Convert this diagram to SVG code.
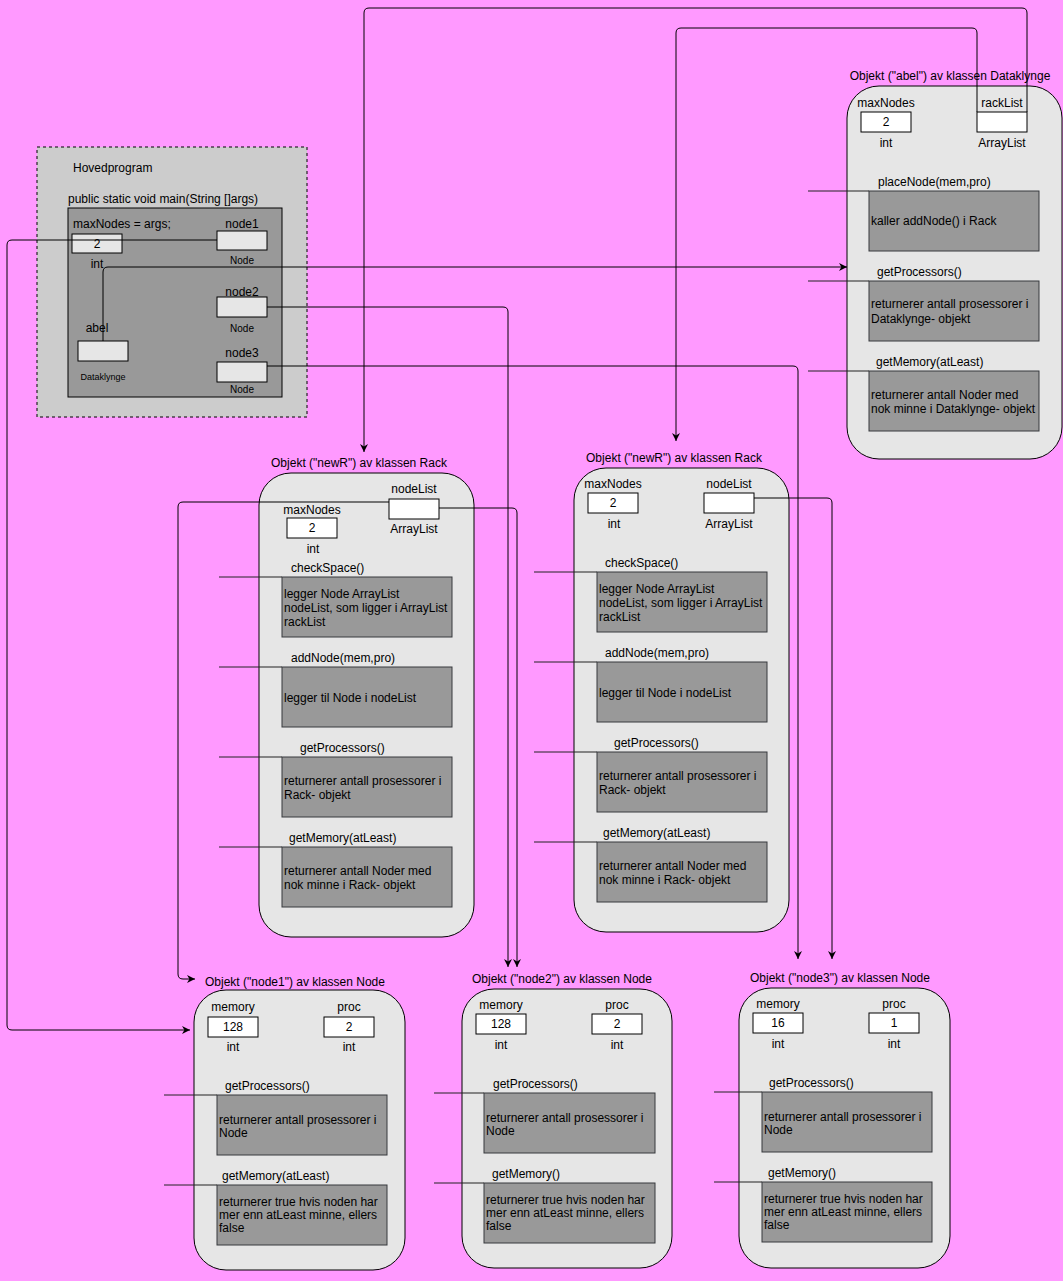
<svg xmlns="http://www.w3.org/2000/svg" width="1063" height="1281" viewBox="0 0 1063 1281">
<defs>
<marker id="arr" viewBox="0 0 10 10" refX="10" refY="5" markerWidth="8" markerHeight="8" markerUnits="userSpaceOnUse" orient="auto">
<path d="M0,0 L10,5 L0,10 L3,5 z" fill="#000"/>
</marker>
<style>
text{font-family:"Liberation Sans",Arial,sans-serif;font-size:12px;fill:#000}
.c{text-anchor:middle}
.s{font-size:10px}
.xs{font-size:9px}
.obj{fill:#E6E6E6;stroke:#000;stroke-width:1}
.meth{fill:#999999;stroke:#36393d;stroke-width:1}
.val{fill:#FFFFFF;stroke:#000;stroke-width:1}
.hval{fill:#E6E6E6;stroke:#000;stroke-width:1}
.ml{stroke:#222;stroke-width:1;fill:none}
.con{fill:none;stroke:#000;stroke-width:1}
</style>
</defs>
<rect x="0" y="0" width="1063" height="1281" fill="#FF99FF"/>

<g id="hovedprogram">
<rect x="37" y="147" width="270" height="270" fill="#CCCCCC" stroke="#000" stroke-dasharray="3,3"/>
<text x="73" y="172">Hovedprogram</text>
<text x="68" y="203">public static void main(String []args)</text>
<rect x="68" y="208" width="214" height="189" fill="#999999" stroke="#000"/>
<text x="73" y="228">maxNodes = args;</text>
<rect class="hval" x="72" y="234" width="50" height="19"/>
<text class="c" x="97" y="248">2</text>
<text class="c" x="97" y="268">int</text>
<text class="c" x="242" y="228">node1</text>
<rect class="hval" x="217" y="231" width="50" height="19"/>
<text class="c s" x="242" y="264">Node</text>
<text class="c" x="242" y="296">node2</text>
<rect class="hval" x="217" y="297" width="50" height="20"/>
<text class="c s" x="242" y="332">Node</text>
<text class="c" x="97" y="332">abel</text>
<rect class="hval" x="78" y="341" width="50" height="20"/>
<text class="c xs" x="103" y="380">Dataklynge</text>
<text class="c" x="242" y="357">node3</text>
<rect class="hval" x="217" y="362" width="50" height="20"/>
<text class="c s" x="242" y="393">Node</text>
</g>

<g id="abel">
<text class="c" x="950" y="80">Objekt ("abel") av klassen Dataklynge</text>
<rect class="obj" x="847" y="86" width="215" height="373" rx="32" ry="32"/>
<text class="c" x="886" y="107">maxNodes</text>
<rect class="val" x="861" y="112" width="50" height="20"/>
<text class="c" x="886" y="126">2</text>
<text class="c" x="886" y="147">int</text>
<text class="c" x="1002" y="107">rackList</text>
<rect class="val" x="977" y="112" width="50" height="20"/>
<text class="c" x="1002" y="147">ArrayList</text>
<text x="878" y="186">placeNode(mem,pro)</text>
<line class="ml" x1="808" y1="191" x2="869" y2="191"/>
<rect class="meth" x="869" y="191" width="170" height="60"/>
<text x="871" y="225">kaller addNode() i Rack</text>
<text x="877" y="276">getProcessors()</text>
<line class="ml" x1="808" y1="281" x2="869" y2="281"/>
<rect class="meth" x="869" y="281" width="170" height="60"/>
<text x="871" y="308">returnerer antall prosessorer i</text>
<text x="871" y="323">Dataklynge- objekt</text>
<text x="876" y="366">getMemory(atLeast)</text>
<line class="ml" x1="808" y1="371" x2="869" y2="371"/>
<rect class="meth" x="869" y="371" width="170" height="60"/>
<text x="871" y="399">returnerer antall Noder med</text>
<text x="871" y="413">nok minne i Dataklynge- objekt</text>
</g>

<g id="rack1">
<text class="c" x="359" y="467">Objekt ("newR") av klassen Rack</text>
<rect class="obj" x="259" y="473" width="215" height="464" rx="32" ry="32"/>
<text class="c" x="414" y="493">nodeList</text>
<rect class="val" x="389" y="499" width="50" height="20"/>
<text class="c" x="414" y="533">ArrayList</text>
<text class="c" x="312" y="514">maxNodes</text>
<rect class="val" x="287" y="518" width="50" height="20"/>
<text class="c" x="312" y="532">2</text>
<text class="c" x="313" y="553">int</text>
<text x="291" y="572">checkSpace()</text>
<line class="ml" x1="219" y1="577" x2="282" y2="577"/>
<rect class="meth" x="282" y="577" width="170" height="60"/>
<text x="284" y="598">legger Node ArrayList</text>
<text x="284" y="612">nodeList, som ligger i ArrayList</text>
<text x="284" y="626">rackList</text>
<text x="291" y="662">addNode(mem,pro)</text>
<line class="ml" x1="219" y1="667" x2="282" y2="667"/>
<rect class="meth" x="282" y="667" width="170" height="60"/>
<text x="284" y="702">legger til Node i nodeList</text>
<text x="300" y="752">getProcessors()</text>
<line class="ml" x1="219" y1="757" x2="282" y2="757"/>
<rect class="meth" x="282" y="757" width="170" height="60"/>
<text x="284" y="785">returnerer antall prosessorer i</text>
<text x="284" y="799">Rack- objekt</text>
<text x="289" y="842">getMemory(atLeast)</text>
<line class="ml" x1="219" y1="847" x2="282" y2="847"/>
<rect class="meth" x="282" y="847" width="170" height="60"/>
<text x="284" y="875">returnerer antall Noder med</text>
<text x="284" y="889">nok minne i Rack- objekt</text>
</g>

<g id="rack2">
<text class="c" x="674" y="462">Objekt ("newR") av klassen Rack</text>
<rect class="obj" x="574" y="468" width="215" height="464" rx="32" ry="32"/>
<text class="c" x="613" y="488">maxNodes</text>
<rect class="val" x="588" y="493" width="50" height="20"/>
<text class="c" x="613" y="507">2</text>
<text class="c" x="614" y="528">int</text>
<text class="c" x="729" y="488">nodeList</text>
<rect class="val" x="704" y="493" width="50" height="20"/>
<text class="c" x="729" y="528">ArrayList</text>
<text x="605" y="567">checkSpace()</text>
<line class="ml" x1="534" y1="572" x2="597" y2="572"/>
<rect class="meth" x="597" y="572" width="170" height="60"/>
<text x="599" y="593">legger Node ArrayList</text>
<text x="599" y="607">nodeList, som ligger i ArrayList</text>
<text x="599" y="621">rackList</text>
<text x="605" y="657">addNode(mem,pro)</text>
<line class="ml" x1="534" y1="662" x2="597" y2="662"/>
<rect class="meth" x="597" y="662" width="170" height="60"/>
<text x="599" y="697">legger til Node i nodeList</text>
<text x="614" y="747">getProcessors()</text>
<line class="ml" x1="534" y1="752" x2="597" y2="752"/>
<rect class="meth" x="597" y="752" width="170" height="60"/>
<text x="599" y="780">returnerer antall prosessorer i</text>
<text x="599" y="794">Rack- objekt</text>
<text x="603" y="837">getMemory(atLeast)</text>
<line class="ml" x1="534" y1="842" x2="597" y2="842"/>
<rect class="meth" x="597" y="842" width="170" height="60"/>
<text x="599" y="870">returnerer antall Noder med</text>
<text x="599" y="884">nok minne i Rack- objekt</text>
</g>

<g id="node1">
<text class="c" x="295" y="986">Objekt ("node1") av klassen Node</text>
<rect class="obj" x="194" y="990" width="211" height="280" rx="32" ry="32"/>
<text class="c" x="233" y="1011">memory</text>
<rect class="val" x="208" y="1017" width="50" height="20"/>
<text class="c" x="233" y="1031">128</text>
<text class="c" x="233" y="1051">int</text>
<text class="c" x="349" y="1011">proc</text>
<rect class="val" x="324" y="1017" width="50" height="20"/>
<text class="c" x="349" y="1031">2</text>
<text class="c" x="349" y="1051">int</text>
<text x="225" y="1090">getProcessors()</text>
<line class="ml" x1="164" y1="1095" x2="217" y2="1095"/>
<rect class="meth" x="217" y="1095" width="170" height="60"/>
<text x="219" y="1124">returnerer antall prosessorer i</text>
<text x="219" y="1137">Node</text>
<text x="222" y="1180">getMemory(atLeast)</text>
<line class="ml" x1="164" y1="1185" x2="217" y2="1185"/>
<rect class="meth" x="217" y="1185" width="170" height="60"/>
<text x="219" y="1206">returnerer true hvis noden har</text>
<text x="219" y="1219">mer enn atLeast minne, ellers</text>
<text x="219" y="1232">false</text>
</g>

<g id="node2">
<text class="c" x="562" y="983">Objekt ("node2") av klassen Node</text>
<rect class="obj" x="462" y="989" width="210" height="279" rx="32" ry="32"/>
<text class="c" x="501" y="1009">memory</text>
<rect class="val" x="476" y="1014" width="50" height="20"/>
<text class="c" x="501" y="1028">128</text>
<text class="c" x="501" y="1049">int</text>
<text class="c" x="617" y="1009">proc</text>
<rect class="val" x="592" y="1014" width="50" height="20"/>
<text class="c" x="617" y="1028">2</text>
<text class="c" x="617" y="1049">int</text>
<text x="493" y="1088">getProcessors()</text>
<line class="ml" x1="434" y1="1093" x2="484" y2="1093"/>
<rect class="meth" x="484" y="1093" width="171" height="60"/>
<text x="486" y="1122">returnerer antall prosessorer i</text>
<text x="486" y="1135">Node</text>
<text x="492" y="1178">getMemory()</text>
<line class="ml" x1="434" y1="1183" x2="484" y2="1183"/>
<rect class="meth" x="484" y="1183" width="171" height="60"/>
<text x="486" y="1204">returnerer true hvis noden har</text>
<text x="486" y="1217">mer enn atLeast minne, ellers</text>
<text x="486" y="1230">false</text>
</g>

<g id="node3">
<text class="c" x="840" y="982">Objekt ("node3") av klassen Node</text>
<rect class="obj" x="739" y="988" width="211" height="280" rx="32" ry="32"/>
<text class="c" x="778" y="1008">memory</text>
<rect class="val" x="753" y="1013" width="50" height="20"/>
<text class="c" x="778" y="1027">16</text>
<text class="c" x="778" y="1048">int</text>
<text class="c" x="894" y="1008">proc</text>
<rect class="val" x="869" y="1013" width="50" height="20"/>
<text class="c" x="894" y="1027">1</text>
<text class="c" x="894" y="1048">int</text>
<text x="769" y="1087">getProcessors()</text>
<line class="ml" x1="714" y1="1092" x2="762" y2="1092"/>
<rect class="meth" x="762" y="1092" width="170" height="60"/>
<text x="764" y="1121">returnerer antall prosessorer i</text>
<text x="764" y="1134">Node</text>
<text x="768" y="1177">getMemory()</text>
<line class="ml" x1="714" y1="1182" x2="762" y2="1182"/>
<rect class="meth" x="762" y="1182" width="170" height="60"/>
<text x="764" y="1203">returnerer true hvis noden har</text>
<text x="764" y="1216">mer enn atLeast minne, ellers</text>
<text x="764" y="1229">false</text>
</g>

<g id="connectors">
<path class="con" d="M217,240 H12 Q7,240 7,245 V1025 Q7,1030 12,1030 H190" marker-end="url(#arr)"/>
<path class="con" d="M103,341 V272 Q103,267 108,267 H847" marker-end="url(#arr)"/>
<path class="con" d="M267,307 H503 Q508,307 508,312 V967" marker-end="url(#arr)"/>
<path class="con" d="M267,366 H793 Q798,366 798,371 V959" marker-end="url(#arr)"/>
<path class="con" d="M1027,112 V13 Q1027,8 1022,8 H369 Q364,8 364,13 V452" marker-end="url(#arr)"/>
<path class="con" d="M977,112 V33 Q977,28 972,28 H681 Q676,28 676,33 V441" marker-end="url(#arr)"/>
<path class="con" d="M389,502 H183 Q178,502 178,507 V974 Q178,979 183,979 H195" marker-end="url(#arr)"/>
<path class="con" d="M439,508 H512 Q517,508 517,513 V967" marker-end="url(#arr)"/>
<path class="con" d="M754,498 H827 Q832,498 832,503 V959" marker-end="url(#arr)"/>
</g>
</svg>
